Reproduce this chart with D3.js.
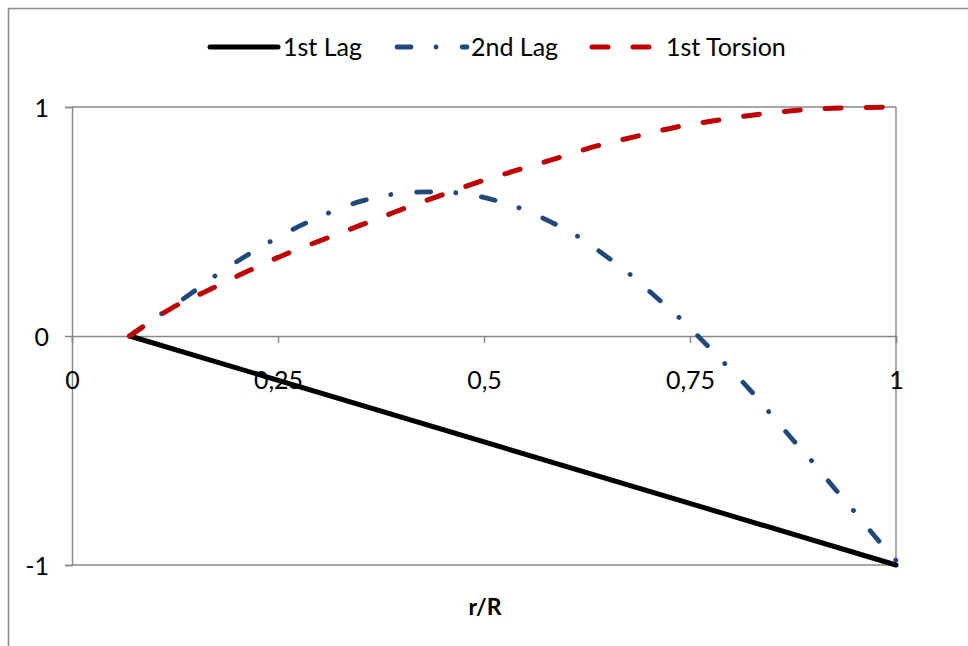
<!DOCTYPE html>
<html>
<head>
<meta charset="utf-8">
<script src="https://cdn.jsdelivr.net/npm/d3@7/dist/d3.min.js"></script>
<style>
  html, body { margin: 0; padding: 0; background: #fff; }
  svg { display: block; font-family: Lato, "Open Sans", sans-serif; }
</style>
</head>
<body>
<svg id="chart" width="968" height="646"></svg>
<script>
// ---- data ----
const seriesNames = ["1st Lag", "2nd Lag", "1st Torsion"];

const lag1X = [0.07, 1.0];
const lag1Y = [0, -1];

const lag2X = [0.07, 0.105, 0.143, 0.176, 0.209, 0.244, 0.279, 0.314, 0.352, 0.391, 0.430, 0.470,
               0.508, 0.546, 0.581, 0.617, 0.648, 0.681, 0.710, 0.740, 0.768, 0.795, 0.823,
               0.848, 0.875, 0.900, 0.926, 0.951, 0.977, 1.0];
const lag2Y = [0, 0.088, 0.182, 0.268, 0.345, 0.419, 0.485, 0.541, 0.590, 0.620, 0.629, 0.624,
               0.598, 0.555, 0.498, 0.428, 0.349, 0.258, 0.166, 0.070, -0.031, -0.131, -0.236,
               -0.341, -0.454, -0.555, -0.668, -0.773, -0.886, -0.98];

const torsX = [0.07, 0.121, 0.166, 0.211, 0.257, 0.303, 0.351, 0.398, 0.445, 0.493, 0.541,
               0.589, 0.637, 0.686, 0.734, 0.785, 0.835, 0.885, 0.936, 1.0];
const torsY = [0, 0.122, 0.201, 0.279, 0.354, 0.419, 0.485, 0.550, 0.611, 0.672, 0.725,
               0.777, 0.830, 0.873, 0.913, 0.943, 0.969, 0.987, 0.996, 1.0];

const xTicks = [0, 0.25, 0.5, 0.75, 1];
const xTickLabels = ["0", "0,25", "0,5", "0,75", "1"];
const yTicks = [-1, 0, 1];
const yTickLabels = ["-1", "0", "1"];
const xTitle = "r/R";

// ---- setup ----
const svg = d3.select("#chart");
const W = 968, H = 646;
const plot = { left: 72, right: 896, top: 107, bottom: 565 };
const grid = "#878787";
const fs = 25;

const x = d3.scaleLinear().domain([0, 1]).range([plot.left, plot.right]);
const y = d3.scaleLinear().domain([-1, 1]).range([plot.bottom, plot.top]);

// outer frame (right and bottom edges lie outside the picture)
svg.append("path")
  .attr("d", `M8.5,${H + 5} L8.5,8.5 L${W + 5},8.5`)
  .attr("fill", "none").attr("stroke", "#8c8c8c").attr("stroke-width", 1.6);

// gridlines at 1 and -1 and right border
const g = svg.append("g");
[1, -1].forEach(v => {
  g.append("line").attr("x1", x(0)).attr("x2", x(1)).attr("y1", y(v)).attr("y2", y(v))
    .attr("stroke", grid).attr("stroke-width", 1.4);
});
g.append("line").attr("x1", x(1)).attr("x2", x(1)).attr("y1", y(1)).attr("y2", y(-1))
  .attr("stroke", grid).attr("stroke-width", 1.4);

// y axis
const yAxis = d3.axisLeft(y).tickValues(yTicks).tickSize(7)
  .tickFormat(d => yTickLabels[yTicks.indexOf(d)]);
const ya = svg.append("g").attr("transform", `translate(${x(0)},0)`).call(yAxis);
ya.select(".domain").attr("stroke", grid).attr("stroke-width", 1.4);
ya.selectAll(".tick line").attr("stroke", grid).attr("stroke-width", 1.4);
ya.selectAll(".tick text").attr("x", -23).attr("dy", "0.36em")
  .attr("font-size", fs).attr("fill", "#000")
  .attr("font-family", "Lato, sans-serif");

// x axis at y = 0
const xAxis = d3.axisBottom(x).tickValues(xTicks).tickSize(7)
  .tickFormat(d => xTickLabels[xTicks.indexOf(d)]);
const xa = svg.append("g").attr("transform", `translate(0,${y(0)})`).call(xAxis);
xa.select(".domain").attr("stroke", grid).attr("stroke-width", 1.4);
xa.selectAll(".tick line").attr("stroke", grid).attr("stroke-width", 1.4);
xa.selectAll(".tick text").attr("y", 44).attr("dy", "0.36em")
  .attr("font-size", fs).attr("fill", "#000")
  .attr("font-family", "Lato, sans-serif");

// x title
svg.append("text").attr("x", (x(0) + x(1)) / 2 + 1).attr("y", 607).attr("dy", "0.36em")
  .attr("text-anchor", "middle").attr("font-size", 23).attr("font-weight", "bold")
  .text(xTitle);

// ---- series ----
const line = d3.line().x(d => x(d[0])).y(d => y(d[1])).curve(d3.curveCatmullRom.alpha(0.5));
const styles = [
  { color: "#000000", width: 5, dash: null },
  { color: "#1F497D", width: 4.8, dash: "14 25 0.1 26" },
  { color: "#C00000", width: 5, dash: "16 25" }
];
const data = [
  d3.zip(lag1X, lag1Y),
  d3.zip(lag2X, lag2Y),
  d3.zip(torsX, torsY)
];
data.forEach((pts, i) => {
  const s = styles[i];
  const p = svg.append("path").datum(pts).attr("d", line)
    .attr("fill", "none").attr("stroke", s.color).attr("stroke-width", s.width)
    .attr("stroke-linecap", "round").attr("stroke-linejoin", "round");
  if (s.dash) p.attr("stroke-dasharray", s.dash);
});

// ---- legend ----
const legendItems = [
  { x1: 210, x2: 278, tx: 283 },
  { x1: 397, x2: 467, tx: 471 },
  { x1: 592, x2: 660, tx: 666 }
];
const ly = 47;
legendItems.forEach((it, i) => {
  const s = styles[i];
  const l = svg.append("line").attr("x1", it.x1).attr("x2", it.x2).attr("y1", ly).attr("y2", ly)
    .attr("stroke", s.color).attr("stroke-width", s.width).attr("stroke-linecap", "round");
  if (s.dash) l.attr("stroke-dasharray", s.dash);
  svg.append("text").attr("x", it.tx).attr("y", ly).attr("dy", "0.36em")
    .attr("font-size", fs).text(seriesNames[i]);
});
</script>
</body>
</html>
